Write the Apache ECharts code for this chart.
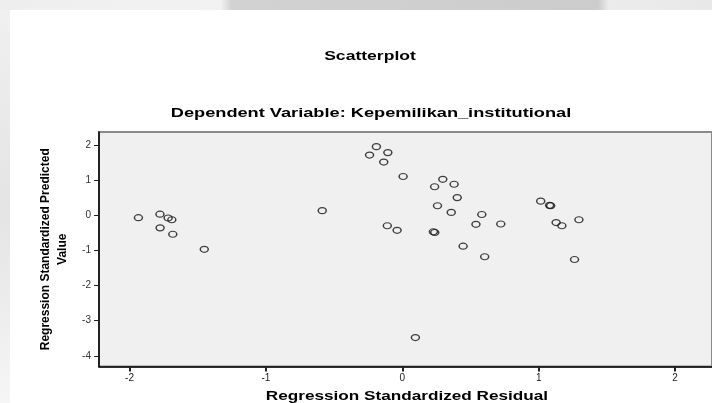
<!DOCTYPE html>
<html><head><meta charset="utf-8">
<script src="https://cdn.jsdelivr.net/npm/echarts@6/dist/echarts.min.js"></script>
<style>html,body{margin:0;padding:0;background:#fff}#c{width:712px;height:403px}</style>
</head><body><div id="c"></div>
<script>
const titleText = 'Scatterplot';
const subtitleText = 'Dependent Variable: Kepemilikan_institutional';
const xAxisTitle = 'Regression Standardized Residual';
const yAxisTitle = 'Regression Standardized Predicted\nValue';
const xTicks = [-2, -1, 0, 1, 2];
const yTicks = [-4, -3, -2, -1, 0, 1, 2];
const residual = [-1.935,-1.777,-1.717,-1.690,-1.776,-1.683,-1.452,-0.587,-0.190,-0.240,-0.106,-0.136,0.006,-0.110,-0.038,0.297,0.237,0.380,0.403,0.258,0.359,0.583,0.540,0.722,0.228,0.238,0.446,0.604,1.015,1.080,1.088,1.128,1.170,1.295,1.263,0.096];
const predicted = [-0.07,0.03,-0.08,-0.13,-0.36,-0.54,-0.97,0.13,1.95,1.71,1.78,1.51,1.10,-0.30,-0.43,1.02,0.81,0.88,0.50,0.27,0.08,0.02,-0.26,-0.25,-0.47,-0.49,-0.88,-1.18,0.40,0.28,0.27,-0.21,-0.30,-0.13,-1.26,-3.48];

const pts = residual.map((r, i) => [r, predicted[i]]);
const chart = echarts.init(document.getElementById('c'), null, {renderer: 'canvas'});
const F = '"Liberation Sans", Arial, sans-serif';
chart.setOption({
  animation: false,
  graphic: [
    {type:'rect', z:-10, shape:{x:0,y:0,width:712,height:10}, style:{fill:new echarts.graphic.LinearGradient(0,0,1,0,[{offset:0,color:'#eeeeee'},{offset:0.31,color:'#f2f2f2'},{offset:0.325,color:'#d2d2d2'},{offset:0.84,color:'#cccccc'},{offset:0.855,color:'#ececec'},{offset:1,color:'#e8e8e8'}])}},
    {type:'rect', z:-10, shape:{x:0,y:10,width:10,height:393}, style:{fill:new echarts.graphic.LinearGradient(0,0,0,1,[{offset:0,color:'#f0f0f0'},{offset:0.5,color:'#e4e4e4'},{offset:0.8,color:'#eeeeee'},{offset:1,color:'#f6f6f6'}])}},
    {type:'text', x:370, y:56, scaleX:1.35, style:{text:titleText, font:'bold 13px ' + F, fill:'#000', align:'center', verticalAlign:'middle'}},
    {type:'text', x:371, y:113, scaleX:1.4, style:{text:subtitleText, font:'bold 13px ' + F, fill:'#000', align:'center', verticalAlign:'middle'}},
    {type:'text', x:407, y:396, scaleX:1.32, style:{text:xAxisTitle, font:'bold 13px ' + F, fill:'#000', align:'center', verticalAlign:'middle'}}
  ],
  grid: {left: 99, top: 132, width: 623, bottom: 36.5, show: true, backgroundColor: '#f0f0f0', borderColor: '#8a8a8a', borderWidth: 2},
  xAxis: {
    type: 'value', min: -2.224, max: 2.271, splitLine: {show: false},
    axisLine: {show: true, onZero: false, lineStyle: {color: '#000', width: 1.5}},
    axisTick: {show: true, inside: false, length: 5, customValues: xTicks, lineStyle: {color: '#222', width: 2}},
    axisLabel: {customValues: xTicks, fontFamily: F, fontSize: 10, color: '#222', margin: 7}
  },
  yAxis: {
    type: 'value', min: -4.302, max: 2.366, splitLine: {show: false},
    name: yAxisTitle, nameLocation: 'middle', nameGap: 24,
    nameTextStyle: {fontFamily: F, fontWeight: 'bold', fontSize: 12, color: '#000', lineHeight: 17},
    axisLine: {show: true, onZero: false, lineStyle: {color: '#000', width: 1.5}},
    axisTick: {show: true, inside: false, length: 5, customValues: yTicks, lineStyle: {color: '#222', width: 1}},
    axisLabel: {customValues: yTicks, fontFamily: F, fontSize: 10, color: '#333', margin: 8}
  },
  series: [{
    type: 'scatter', data: pts, symbol: 'circle', symbolSize: [8, 6],
    itemStyle: {color: 'rgba(0,0,0,0)', borderColor: '#111', borderWidth: 1.3}
  }]
});
</script></body></html>
